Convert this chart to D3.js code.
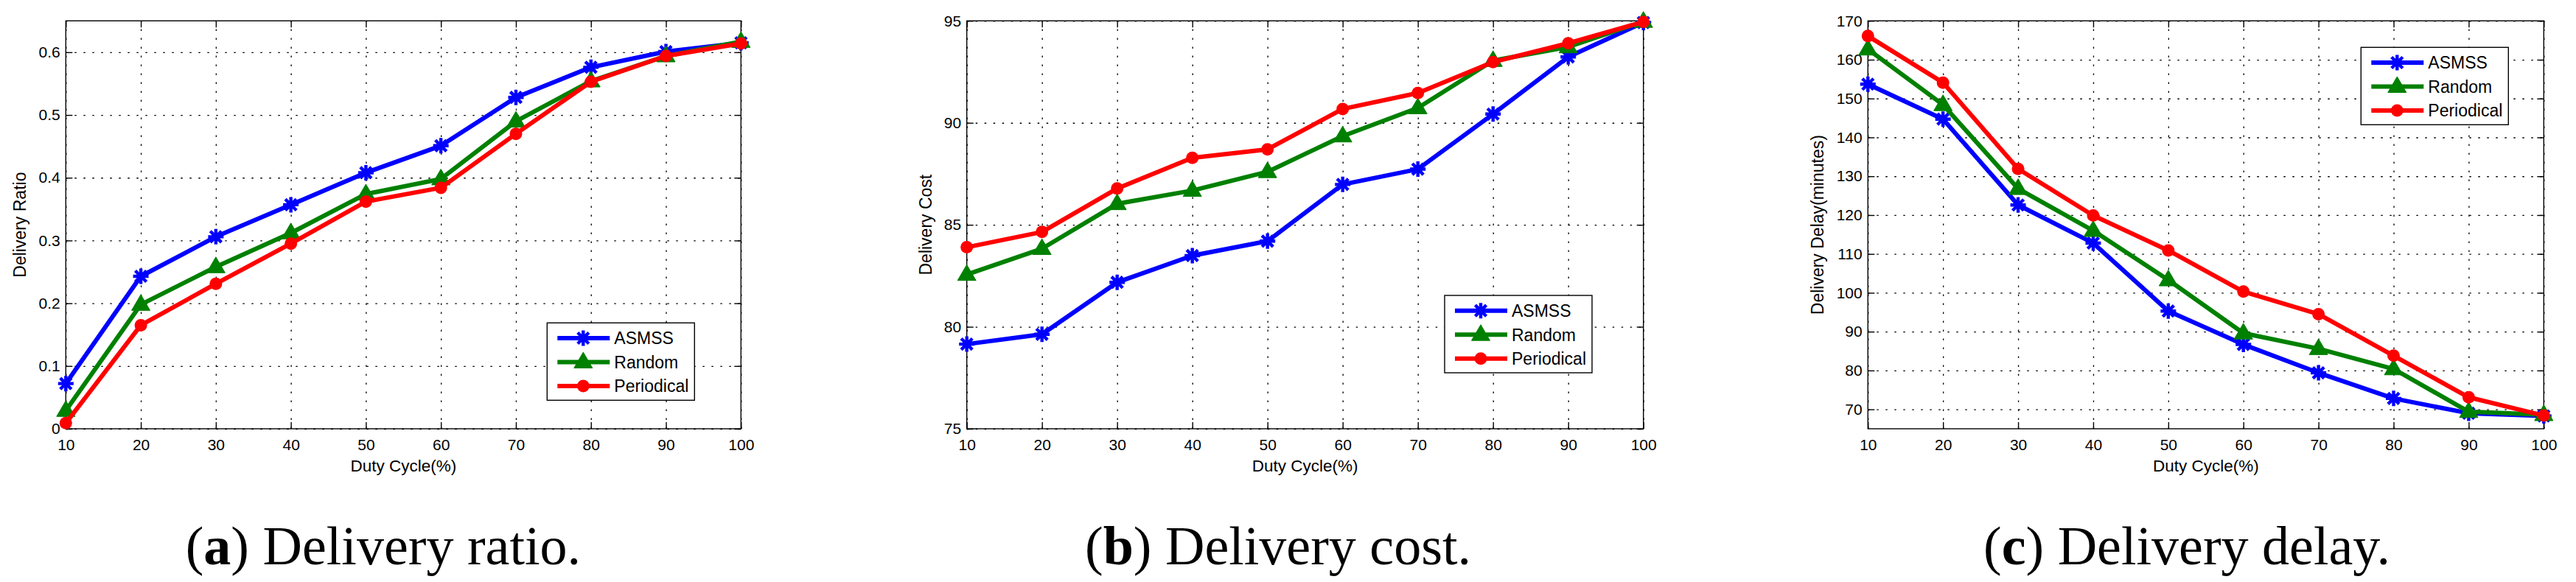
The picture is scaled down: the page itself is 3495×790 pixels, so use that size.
<!DOCTYPE html>
<html><head><meta charset="utf-8">
<script src="https://cdn.jsdelivr.net/npm/d3@7"></script>
<style>body{margin:0;background:#fff} svg{display:block;background:#fff}</style>
</head><body>
<svg id="chart" width="3495" height="790"></svg>
<script>
// ---------- data ----------
const dutyCycle = [10, 20, 30, 40, 50, 60, 70, 80, 90, 100];
const seriesNames = ["ASMSS", "Random", "Periodical"];

const ratioASMSS      = [0.072, 0.243, 0.306, 0.357, 0.408, 0.451, 0.528, 0.576, 0.601, 0.615];
const ratioRandom     = [0.029, 0.198, 0.258, 0.312, 0.374, 0.398, 0.490, 0.554, 0.594, 0.617];
const ratioPeriodical = [0.009, 0.165, 0.231, 0.295, 0.362, 0.384, 0.470, 0.553, 0.594, 0.614];

const costASMSS       = [79.15, 79.63, 82.18, 83.49, 84.20, 86.98, 87.73, 90.43, 93.23, 94.92];
const costRandom      = [82.56, 83.83, 86.03, 86.68, 87.60, 89.35, 90.73, 93.05, 93.72, 94.97];
const costPeriodical  = [83.90, 84.65, 86.78, 88.28, 88.70, 90.68, 91.46, 92.98, 93.90, 94.95];

const delayASMSS      = [153.7, 144.7, 122.6, 112.8, 95.3, 86.7, 79.4, 72.8, 69.0, 68.3];
const delayRandom     = [162.7, 148.4, 126.8, 116.0, 103.3, 89.6, 85.6, 80.4, 69.4, 68.6];
const delayPeriodical = [166.1, 154.1, 131.9, 119.9, 110.9, 100.3, 94.5, 83.8, 73.1, 68.4];

const ratioTicks = [0, 0.1, 0.2, 0.3, 0.4, 0.5, 0.6];
const costTicks  = [75, 80, 85, 90, 95];
const delayTicks = [70, 80, 90, 100, 110, 120, 130, 140, 150, 160, 170];

const xLabel = "Duty Cycle(%)";
const yLabels = ["Delivery Ratio", "Delivery Cost", "Delivery Delay(minutes)"];
const captionLetters = ["a", "b", "c"];
const captionTexts = [" Delivery ratio.", " Delivery cost.", " Delivery delay."];

// ---------- layout / style ----------
const colors = ["#0000ff", "#008000", "#ff0000"];
const markers = ["star", "triangle", "circle"];
const TOP = 28.3, BOTTOM = 582;
const panels = [
  { left: 89.3,   right: 1005.3, domain: [0, 0.65], ticks: ratioTicks, fmt: d => d === 0 ? "0" : d3.format(".1f")(d),
    series: [ratioASMSS, ratioRandom, ratioPeriodical], ylabelX: 35, legend: [742.3, 438.3], capX: 251.7 },
  { left: 1311.7, right: 2229.7, domain: [75, 95], ticks: costTicks, fmt: d3.format("d"),
    series: [costASMSS, costRandom, costPeriodical], ylabelX: 1264, legend: [1960, 401], capX: 1472 },
  { left: 2534.3, right: 3451.3, domain: [65, 170], ticks: delayTicks, fmt: d3.format("d"),
    series: [delayASMSS, delayRandom, delayPeriodical], ylabelX: 2474.3, legend: [3203.3, 64.3], capX: 2691 }
];
const SANS = "'Liberation Sans', Arial, Helvetica, sans-serif";
const SERIF = "'Liberation Serif', 'Times New Roman', serif";

const svg = d3.select("#chart");

function drawMarker(g, type, color) {
  if (type === "star") {
    const r = 10.5, d = r * 0.72;
    g.append("path")
      .attr("d", `M0,${-r}L0,${r}M${-r},0L${r},0M${-d},${-d}L${d},${d}M${-d},${d}L${d},${-d}`)
      .attr("stroke", color).attr("stroke-width", 4.4).attr("fill", "none");
  } else if (type === "triangle") {
    g.append("path").attr("d", "M0,-13.4L12.5,8L-12.5,8Z").attr("fill", color).attr("stroke", color).attr("stroke-width", 1);
  } else {
    g.append("circle").attr("r", 8.5).attr("fill", color);
  }
}

panels.forEach((p, pi) => {
  const x = d3.scaleLinear().domain([10, 100]).range([p.left, p.right]);
  const y = d3.scaleLinear().domain(p.domain).range([BOTTOM, TOP]);
  const W = p.right - p.left, H = BOTTOM - TOP;
  const g = svg.append("g");

  // grid
  const grid = g.append("g").attr("class", "grid");
  grid.append("g").attr("transform", `translate(${p.left},0)`)
    .call(d3.axisLeft(y).tickValues(p.ticks).tickSize(-W).tickFormat(""))
    .call(s => s.select(".domain").remove());
  grid.append("g").attr("transform", `translate(0,${BOTTOM})`)
    .call(d3.axisBottom(x).tickValues(dutyCycle).tickSize(-H).tickFormat(""))
    .call(s => s.select(".domain").remove());
  grid.selectAll("line").attr("stroke", "#000").attr("stroke-width", 1.3).attr("stroke-dasharray", "2.5,9.5");

  // axes (ticks inside)
  const styleAxis = s => {
    s.select(".domain").remove();
    s.selectAll("line").attr("stroke", "#000").attr("stroke-width", 1.4);
    s.selectAll("text").attr("font-family", SANS).attr("font-size", 21).attr("fill", "#000");
  };
  g.append("g").attr("transform", `translate(${p.left},0)`)
    .call(d3.axisLeft(y).tickValues(p.ticks).tickSize(-9).tickPadding(7.6).tickFormat(p.fmt)).call(styleAxis);
  g.append("g").attr("transform", `translate(${p.right},0)`)
    .call(d3.axisRight(y).tickValues(p.ticks).tickSize(-9).tickFormat("")).call(styleAxis);
  g.append("g").attr("transform", `translate(0,${BOTTOM})`)
    .call(d3.axisBottom(x).tickValues(dutyCycle).tickSize(-9).tickPadding(13.6).tickFormat(d3.format("d"))).call(styleAxis);
  g.append("g").attr("transform", `translate(0,${TOP})`)
    .call(d3.axisTop(x).tickValues(dutyCycle).tickSize(-9).tickFormat("")).call(styleAxis);

  g.append("rect").attr("x", p.left).attr("y", TOP).attr("width", W).attr("height", H)
    .attr("fill", "none").attr("stroke", "#000").attr("stroke-width", 1.4);

  // series
  const line = d3.line().x((d, i) => x(dutyCycle[i])).y(d => y(d));
  p.series.forEach((vals, si) => {
    const sg = g.append("g");
    sg.append("path").datum(vals).attr("d", line).attr("fill", "none")
      .attr("stroke", colors[si]).attr("stroke-width", 6).attr("stroke-linejoin", "round");
    vals.forEach((v, i) => {
      const mg = sg.append("g").attr("transform", `translate(${x(dutyCycle[i])},${y(v)})`);
      drawMarker(mg, markers[si], colors[si]);
    });
  });

  // labels
  g.append("text").attr("x", (p.left + p.right) / 2).attr("y", 640)
    .attr("text-anchor", "middle").attr("font-family", SANS).attr("font-size", 22.5).text(xLabel);
  g.append("text").attr("transform", `translate(${p.ylabelX},${(TOP + BOTTOM) / 2}) rotate(-90)`)
    .attr("text-anchor", "middle").attr("font-family", SANS).attr("font-size", 23).text(yLabels[pi]);

  // legend
  const [lx, ly] = p.legend;
  const lg = g.append("g").attr("transform", `translate(${lx},${ly})`);
  lg.append("rect").attr("width", 200).attr("height", 105).attr("fill", "#fff").attr("stroke", "#000").attr("stroke-width", 1.4);
  seriesNames.forEach((name, si) => {
    const ry = 20.7 + si * 32.5;
    lg.append("line").attr("x1", 14).attr("x2", 85).attr("y1", ry).attr("y2", ry)
      .attr("stroke", colors[si]).attr("stroke-width", 6);
    drawMarker(lg.append("g").attr("transform", `translate(49,${ry})`), markers[si], colors[si]);
    lg.append("text").attr("x", 91).attr("y", ry + 8.3).attr("font-family", SANS).attr("font-size", 23).text(name);
  });

  // caption
  const cap = svg.append("text").attr("x", p.capX).attr("y", 766)
    .attr("font-family", SERIF).attr("font-size", 74).attr("fill", "#000");
  cap.append("tspan").text("(");
  cap.append("tspan").attr("font-weight", "bold").text(captionLetters[pi]);
  cap.append("tspan").text(")");
  cap.append("tspan").text(captionTexts[pi]);
});
</script>
</body></html>
